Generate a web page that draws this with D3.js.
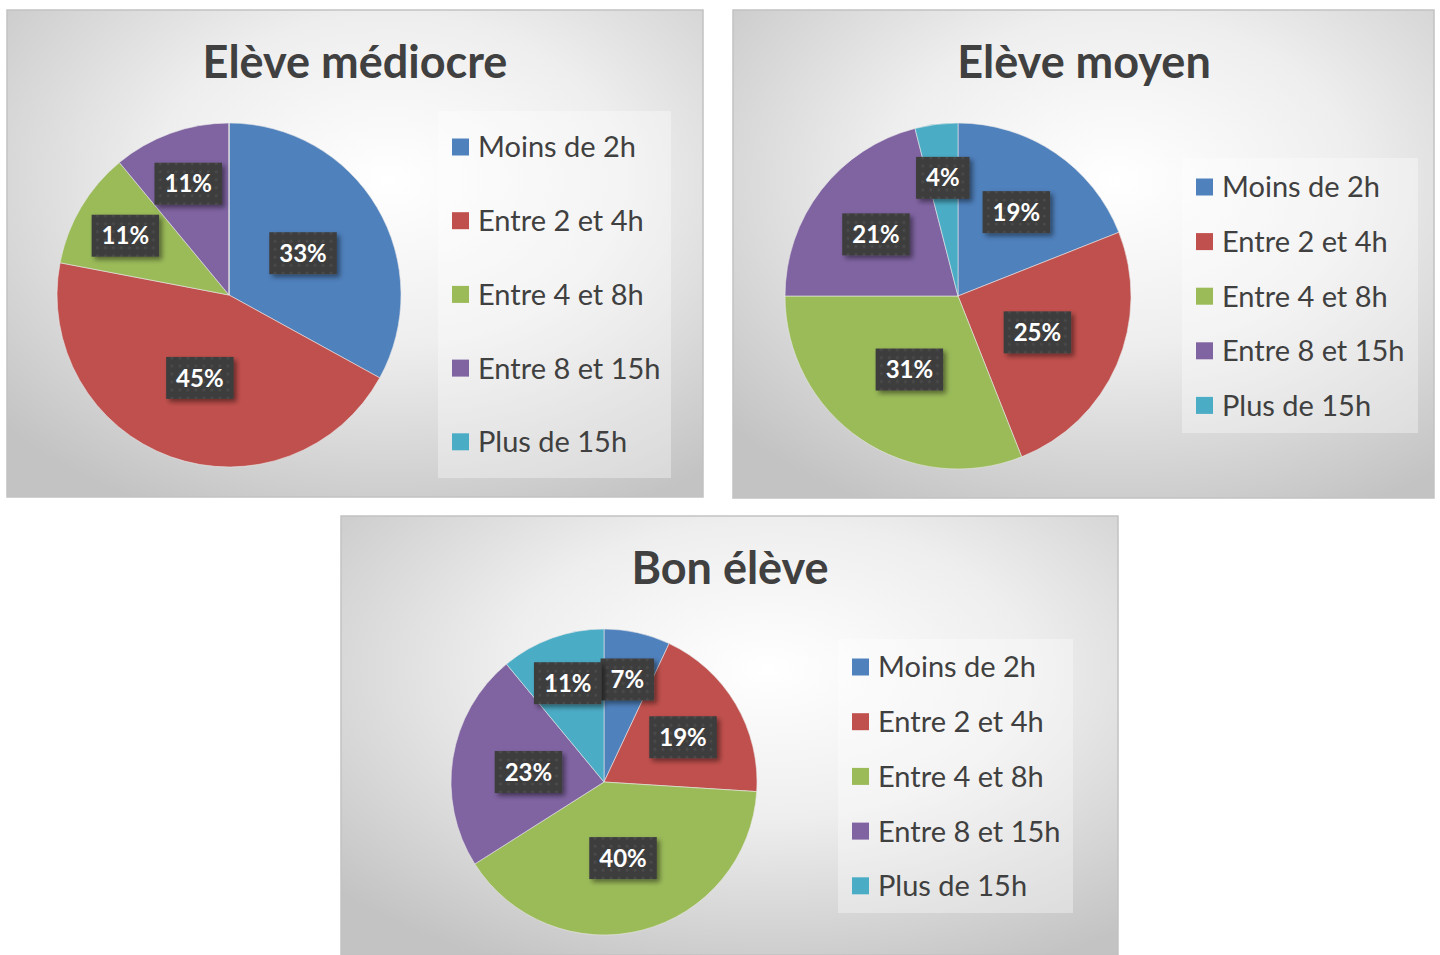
<!DOCTYPE html>
<meta charset="utf-8">
<script src="https://d3js.org/d3.v7.min.js"></script>
<style>
body { margin: 0; background: #fff; }
text { font-family: Lato, "Open Sans", sans-serif; }
</style>
<div id="my_dataviz"></div>
<script>

// categories shared by the three charts
var categories = ["Moins de 2h", "Entre 2 et 4h", "Entre 4 et 8h", "Entre 8 et 15h", "Plus de 15h"];
var colors = ["#4f81bd", "#c0504d", "#9bbb59", "#8064a2", "#4bacc6"];

// percentages
var titles = ["Elève médiocre", "Elève moyen", "Bon élève"];
var mediocre = [33, 45, 11, 11, 0];
var moyen = [19, 25, 31, 21, 4];
var bon = [7, 19, 40, 23, 11];

// panel layout (positions only)
var panels = [
  {values: mediocre, title: titles[0], x: 7, y: 10, w: 696, h: 487, cx: 229, cy: 295, r: 172, tx: 355, ty: 78,
   legend: {x: 438, y: 111, w: 233, h: 367, first: 147, step: 73.7}},
  {values: moyen, title: titles[1], x: 733, y: 10, w: 701, h: 488, cx: 958, cy: 296, r: 173, tx: 1084, ty: 78,
   legend: {x: 1182, y: 158, w: 236, h: 275, first: 187, step: 54.6}},
  {values: bon, title: titles[2], x: 341, y: 516, w: 777, h: 439, cx: 604, cy: 782, r: 153, tx: 730, ty: 584,
   legend: {x: 838, y: 639, w: 235, h: 274, first: 667, step: 54.7}}
];

var width = 1440, height = 955;

var svg = d3.select("#my_dataviz").append("svg")
    .attr("width", width)
    .attr("height", height);

var defs = svg.append("defs");

// panel background: light centre, grey border
panels.forEach(function(p, i) {
  var g = defs.append("radialGradient")
      .attr("id", "bg" + i)
      .attr("cx", "55%").attr("cy", "35%").attr("r", "75%");
  g.append("stop").attr("offset", "0%").attr("stop-color", "#ffffff");
  g.append("stop").attr("offset", "45%").attr("stop-color", "#eeeeee");
  g.append("stop").attr("offset", "100%").attr("stop-color", "#c3c3c3");
});

// dotted texture for the data labels
var pat = defs.append("pattern")
    .attr("id", "dots")
    .attr("width", 8).attr("height", 8)
    .attr("patternUnits", "userSpaceOnUse");
pat.append("rect").attr("width", 8).attr("height", 8).attr("fill", "#3d3d3d");
pat.append("circle").attr("cx", 4).attr("cy", 4).attr("r", 1.5).attr("fill", "#4b4b4b");

var shadow = defs.append("filter").attr("id", "shadow")
    .attr("x", "-30%").attr("y", "-30%").attr("width", "170%").attr("height", "170%");
shadow.append("feDropShadow")
    .attr("dx", 3).attr("dy", 3).attr("stdDeviation", 2.5)
    .attr("flood-color", "#000").attr("flood-opacity", 0.45);

var pie = d3.pie().sort(null).value(function(d) { return d; });

panels.forEach(function(p, i) {
  var g = svg.append("g");

  g.append("rect")
    .attr("x", p.x).attr("y", p.y)
    .attr("width", p.w).attr("height", p.h)
    .attr("fill", "url(#bg" + i + ")")
    .attr("stroke", "#c2c2c2")
    .attr("stroke-width", 1.5);

  g.append("text")
    .attr("x", p.tx).attr("y", p.ty)
    .attr("text-anchor", "middle")
    .attr("font-size", 45)
    .attr("font-weight", "bold")
    .attr("fill", "#404040")
    .text(p.title);

  // the pie
  var arcs = pie(p.values);
  var arc = d3.arc().innerRadius(0).outerRadius(p.r);
  var pg = g.append("g").attr("transform", "translate(" + p.cx + "," + p.cy + ")");

  pg.selectAll("path")
    .data(arcs)
    .enter()
    .append("path")
    .attr("d", arc)
    .attr("fill", function(d, j) { return colors[j]; })
    .attr("stroke", "#e8e8e8")
    .attr("stroke-width", 0.6);

  // data labels: small slices pushed outward, like Excel's best fit
  var lab = pg.selectAll(".lab")
    .data(arcs.filter(function(d) { return d.data > 0; }))
    .enter()
    .append("g")
    .attr("class", "lab")
    .attr("transform", function(d) {
      var k = d.data < 15 ? 0.7 : (d.data < 22 ? 0.6 : 0.5);
      var a = (d.startAngle + d.endAngle) / 2;
      return "translate(" + (Math.sin(a) * p.r * k) + "," + (-Math.cos(a) * p.r * k + 2) + ")";
    });

  lab.append("rect")
    .attr("fill", "url(#dots)")
    .attr("filter", "url(#shadow)");

  var txt = lab.append("text")
    .attr("text-anchor", "middle")
    .attr("dy", "0.36em")
    .attr("font-size", 24)
    .attr("font-weight", "bold")
    .attr("fill", "#ffffff")
    .text(function(d) { return d.data + "%"; });

  txt.each(function() {
    var w = this.getComputedTextLength() + 20;
    d3.select(this.parentNode).select("rect")
      .attr("x", -w / 2).attr("y", -21)
      .attr("width", w).attr("height", 42);
  });

  // legend
  var L = p.legend;
  g.append("rect")
    .attr("x", L.x).attr("y", L.y)
    .attr("width", L.w).attr("height", L.h)
    .attr("fill", "#ffffff")
    .attr("fill-opacity", 0.35);

  var item = g.selectAll(".item")
    .data(categories)
    .enter()
    .append("g")
    .attr("class", "item")
    .attr("transform", function(d, j) { return "translate(" + (L.x + 14) + "," + (L.first + j * L.step) + ")"; });

  item.append("rect")
    .attr("x", 0).attr("y", -8.5)
    .attr("width", 17).attr("height", 17)
    .attr("fill", function(d, j) { return colors[j]; });

  item.append("text")
    .attr("x", 26)
    .attr("dy", "0.36em")
    .attr("font-size", 29)
    .attr("fill", "#404040")
    .text(function(d) { return d; });
});

</script>
